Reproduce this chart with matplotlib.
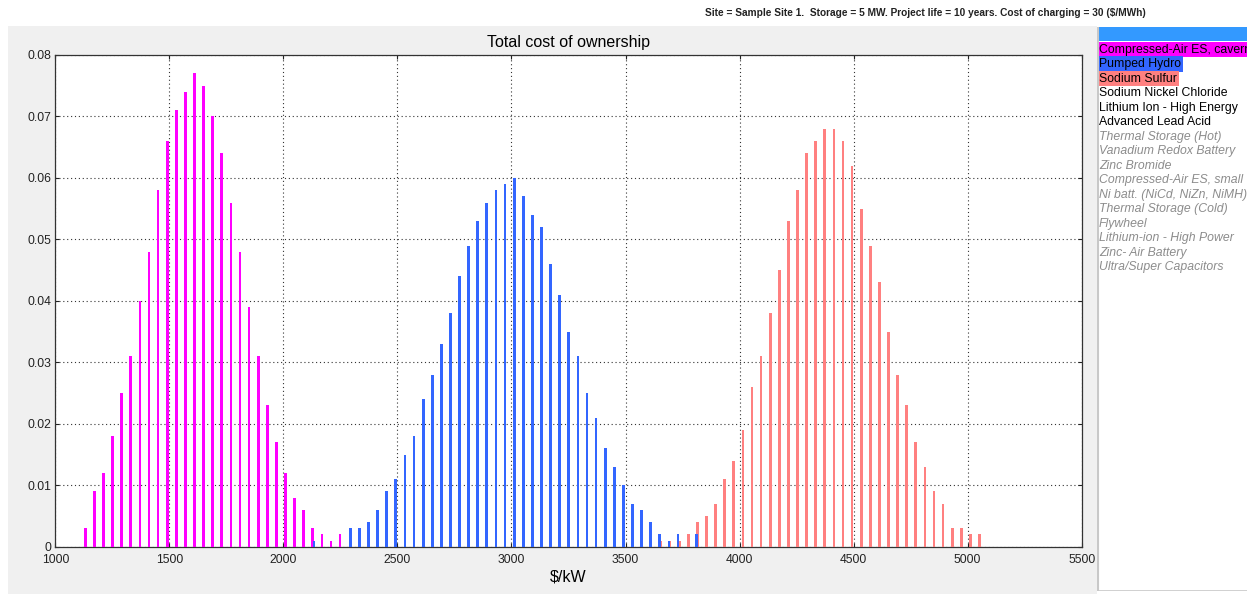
import numpy as np
import matplotlib
matplotlib.use("Agg")
import matplotlib.pyplot as plt
from matplotlib.patches import Rectangle

plt.rcParams['font.family'] = ['Liberation Sans', 'DejaVu Sans']

# histogram bins ($/kW) and probabilities for the three selected technologies
bin_width = 39.9
caes_start = 1131.5
caes_prob = [0.003, 0.009, 0.012, 0.018, 0.025, 0.031, 0.040, 0.048, 0.058, 0.066,
             0.071, 0.074, 0.077, 0.075, 0.070, 0.064, 0.056, 0.048, 0.039, 0.031,
             0.023, 0.017, 0.012, 0.008, 0.006, 0.003, 0.002, 0.001, 0.002]
hydro_start = 2134
hydro_prob = [0.001, 0, 0, 0, 0.003, 0.003, 0.004, 0.006, 0.009, 0.011,
              0.015, 0.018, 0.024, 0.028, 0.033, 0.038, 0.044, 0.049, 0.053, 0.056,
              0.058, 0.059, 0.060, 0.057, 0.054, 0.052, 0.046, 0.041, 0.035, 0.031,
              0.025, 0.021, 0.016, 0.013, 0.010, 0.007, 0.006, 0.004, 0.002, 0.001,
              0.002, 0, 0.002]
nas_start = 3655.4
nas_prob = [0.001, 0.001, 0.001, 0.002, 0.004, 0.005, 0.007, 0.011, 0.014, 0.019,
            0.026, 0.031, 0.038, 0.045, 0.053, 0.058, 0.064, 0.066, 0.068, 0.068,
            0.066, 0.062, 0.055, 0.049, 0.043, 0.035, 0.028, 0.023, 0.017, 0.013,
            0.009, 0.007, 0.003, 0.003, 0.002, 0.002]

technologies = ['Compressed-Air ES, cavern', 'Pumped Hydro', 'Sodium Sulfur',
                'Sodium Nickel Chloride', 'Lithium Ion - High Energy', 'Advanced Lead Acid',
                'Thermal Storage (Hot)', 'Vanadium Redox Battery', 'Zinc Bromide',
                'Compressed-Air ES, small', 'Ni batt. (NiCd, NiZn, NiMH)',
                'Thermal Storage (Cold)', 'Flywheel', 'Lithium-ion - High Power',
                'Zinc- Air Battery', 'Ultra/Super Capacitors']
highlight = {0: '#ff00ff', 1: '#3366ff', 2: '#ff8080'}
n_available = 6

subtitle = 'Site = Sample Site 1.  Storage = 5 MW. Project life = 10 years. Cost of charging = 30 ($/MWh)'

W, H = 1247, 594
fig = plt.figure(figsize=(W / 100, H / 100), dpi=100, facecolor='white')

# grey figure panel
fig.patches.append(Rectangle((8 / W, 0), (1097 - 8) / W, (H - 26) / H,
                             transform=fig.transFigure, facecolor='#f0f0f0',
                             edgecolor='none', zorder=-10))

fig.text(705 / W, 1 - 13 / H, subtitle, fontsize=7.3, fontweight='bold',
         family=['Liberation Sans Narrow', 'Liberation Sans', 'DejaVu Sans'],
         color='#222222', va='center', ha='left')

ax = fig.add_axes([55.3 / W, 1 - 546.7 / H, (1081.7 - 55.3) / W, (546.7 - 55) / H])
ax.set_facecolor('white')

for start, prob, col in [(caes_start, caes_prob, '#ff00ff'),
                         (nas_start, nas_prob, '#ff8080'),
                         (hydro_start, hydro_prob, '#3366ff')]:
    x = start + bin_width * np.arange(len(prob))
    ax.bar(x, prob, width=12, color=col, linewidth=0, zorder=3)

ax.set_xlim(1000, 5500)
ax.set_ylim(0, 0.08)
ax.set_xticks(np.arange(1000, 5501, 500))
ax.set_yticks(np.arange(0, 0.081, 0.01))
ax.set_yticklabels(['0', '0.01', '0.02', '0.03', '0.04', '0.05', '0.06', '0.07', '0.08'])
ax.grid(True, linestyle=(0, (1, 2.5)), color='#333333', linewidth=0.8, zorder=1)
ax.tick_params(direction='in', length=3, width=0.8, top=True, right=True,
               labelsize=8.7, colors='#222222')
ax.tick_params(axis='x', pad=5)
ax.tick_params(axis='y', pad=3)
for s in ax.spines.values():
    s.set_color('#333333')
    s.set_linewidth(0.9)
ax.set_title('Total cost of ownership', fontsize=11.5, pad=6)
ax.set_xlabel('$/kW', fontsize=11.5, labelpad=3)

# technology list box on the right
lb = fig.add_axes([1097 / W, 1 - 591 / H, 150 / W, (591 - 26.7) / H])
lb.set_xlim(0, 150)
lb.set_ylim(591 - 26.7, 0)
lb.axis('off')
lb.add_patch(Rectangle((0, 0), 150, 564.3, facecolor='white', edgecolor='none', zorder=0))
lb.add_patch(Rectangle((0, 0), 150, 14, facecolor='#3399ff', edgecolor='none', zorder=1))
lb.plot([0.5, 0.5], [0, 564.3], color='#c8c8c8', lw=1.5, zorder=5)
lb.plot([0, 150], [563.8, 563.8], color='#c8c8c8', lw=1.2, zorder=5)

row_h = 14.5
for i, name in enumerate(technologies):
    y = 22.8 + i * row_h
    if i < n_available:
        kw = dict(color='black', style='normal')
    else:
        kw = dict(color='#8c8c8c', style='italic')
    t = lb.text(2, y, name, fontsize=8.8, va='center', ha='left', zorder=3, **kw)
    if i in highlight:
        t.set_bbox(dict(facecolor=highlight[i], edgecolor='none', pad=1.4))
    t.set_clip_on(True)

fig.savefig('out.png', dpi=100, facecolor='white')
